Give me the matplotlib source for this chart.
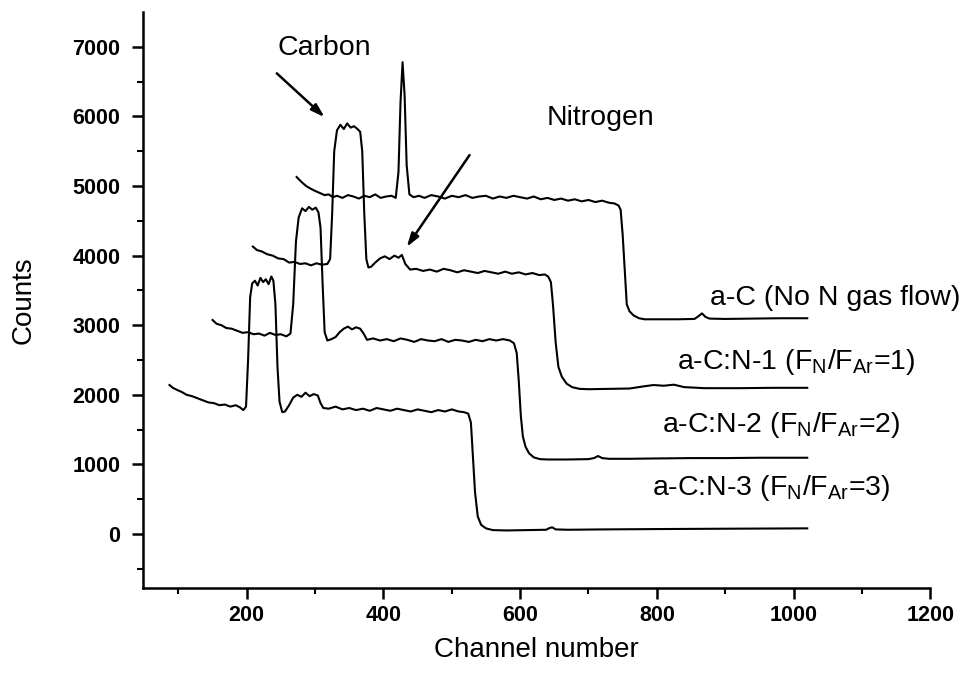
import numpy as np
import matplotlib.pyplot as plt

plt.rcParams['font.family'] = ['Liberation Sans', 'DejaVu Sans']
plt.rcParams['mathtext.default'] = 'regular'

# a-C (No N gas flow), shifted by +3000
x_ac = [273, 280, 287, 294, 300, 307, 314, 320, 326, 332, 340, 348, 356, 364, 372, 380, 388, 396, 404, 412,
        418, 422, 425, 428, 431, 434, 438, 444, 452, 460, 470, 480, 490, 500, 510, 520, 530, 540, 550, 560,
        570, 580, 590, 600, 610, 620, 630, 640, 650, 660, 670, 680, 690, 700, 710, 720, 730, 738, 744, 747,
        750, 753, 756, 760, 766, 774, 782, 800, 830, 855, 861, 866, 871, 877, 900, 940, 980, 1020]
y_ac = [5130, 5060, 5000, 4960, 4930, 4900, 4870, 4880, 4840, 4860, 4830, 4870, 4850, 4820, 4860, 4840, 4880, 4830, 4850, 4860,
        4830, 5200, 6200, 6780, 6300, 5300, 4880, 4840, 4860, 4830, 4870, 4850, 4820, 4860, 4840, 4870, 4830, 4850, 4860, 4820,
        4850, 4830, 4860, 4840, 4820, 4850, 4810, 4830, 4800, 4820, 4790, 4810, 4780, 4800, 4770, 4790, 4760, 4750, 4720, 4660,
        4300, 3800, 3300, 3200, 3140, 3100, 3085, 3085, 3085, 3090, 3130, 3170, 3120, 3095, 3090, 3095, 3100, 3100]

# a-C:N-1, shifted by +2000
x_n1 = [209, 215, 222, 230, 238, 246, 254, 262, 270, 278, 286, 294, 302, 310, 318, 322, 325, 328, 332, 337,
        342, 347, 352, 357, 362, 366, 369, 372, 375, 378, 382, 388, 395, 402, 409, 416, 422, 427, 432, 439,
        448, 458, 468, 478, 488, 498, 508, 518, 528, 538, 548, 558, 568, 578, 588, 598, 608, 618, 628, 636,
        641, 645, 648, 652, 656, 661, 668, 676, 687, 700, 730, 760, 780, 795, 810, 825, 840, 870, 920, 970, 1020]
y_n1 = [4130, 4080, 4060, 4020, 4000, 3960, 3950, 3900, 3910, 3880, 3890, 3860, 3890, 3870, 3880, 3950, 4600, 5500, 5800, 5880,
        5820, 5900, 5840, 5860, 5820, 5780, 5500, 4600, 3950, 3830, 3840, 3900, 3960, 3990, 3950, 4000, 3970, 4010, 3880, 3800,
        3810, 3780, 3800, 3770, 3810, 3790, 3760, 3790, 3770, 3750, 3780, 3760, 3740, 3770, 3740, 3760, 3730, 3750, 3720, 3730,
        3700, 3620, 3300, 2750, 2400, 2260, 2160, 2110, 2085, 2080, 2085, 2090, 2120, 2140, 2130, 2145, 2110, 2095, 2095, 2100, 2100]

# a-C:N-2, shifted by +1000
x_n2 = [150, 156, 163, 170, 178, 186, 194, 202, 210, 218, 226, 234, 242, 250, 258, 264, 268, 272, 276, 281,
        286, 291, 296, 301, 305, 308, 311, 314, 318, 324, 330, 336, 342, 348, 354, 360, 366, 371, 376, 385,
        395, 405, 415, 425, 435, 445, 455, 465, 475, 485, 495, 505, 515, 525, 535, 545, 555, 565, 575, 585,
        591, 595, 598, 601, 604, 608, 613, 620, 629, 640, 670, 700, 708, 714, 720, 730, 760, 800, 850, 900, 950, 1020]
y_n2 = [3075, 3020, 3000, 2960, 2950, 2920, 2890, 2900, 2870, 2880, 2850, 2890, 2860, 2870, 2840, 2880, 3300, 4200, 4550, 4680,
        4640, 4700, 4660, 4690, 4620, 4400, 3600, 2900, 2780, 2800, 2830, 2900, 2950, 2980, 2940, 2970, 2950, 2880, 2790, 2810,
        2780, 2800, 2770, 2810, 2790, 2760, 2800, 2780, 2770, 2800, 2760, 2790, 2780, 2760, 2790, 2770, 2800, 2780, 2800, 2780,
        2740, 2600, 2200, 1700, 1400, 1250, 1160, 1100, 1075, 1070, 1070, 1075, 1090, 1120, 1090, 1080, 1080, 1085, 1090, 1090, 1095, 1095]

# a-C:N-3, no shift
x_n3 = [87, 92, 98, 105, 112, 120, 128, 136, 144, 152, 160, 168, 176, 184, 190, 195, 199, 202, 205, 208,
        212, 216, 220, 224, 228, 232, 236, 239, 242, 245, 248, 252, 256, 262, 268, 274, 280, 286, 292, 298,
        304, 308, 312, 320, 330, 340, 350, 360, 370, 380, 390, 400, 410, 420, 430, 440, 450, 460, 470, 480,
        490, 500, 510, 518, 524, 528, 531, 534, 538, 543, 550, 560, 580, 610, 638, 643, 647, 652, 670, 720, 800, 900, 1020]
y_n3 = [2140, 2100, 2070, 2040, 2000, 1980, 1950, 1920, 1890, 1880, 1850, 1860, 1830, 1850, 1820, 1780, 1830, 2500, 3400, 3600,
        3640, 3570, 3680, 3620, 3660, 3590, 3700, 3640, 3300, 2400, 1900, 1750, 1760, 1850, 1960, 2000, 1970, 2030, 1980, 2010,
        1990, 1880, 1810, 1800, 1830, 1790, 1810, 1780, 1800, 1770, 1810, 1790, 1770, 1800, 1780, 1760, 1790, 1770, 1750, 1780,
        1760, 1790, 1760, 1750, 1730, 1600, 1100, 600, 250, 130, 80, 55, 50, 55, 60, 85, 95, 65, 60, 65, 70, 75, 80]

fig = plt.figure(figsize=(9.65, 6.73), dpi=100)
ax = fig.add_axes([0.148, 0.126, 0.816, 0.856])

for xs, ys in [(x_ac, y_ac), (x_n1, y_n1), (x_n2, y_n2), (x_n3, y_n3)]:
    ax.plot(xs, ys, color='black', lw=1.5)

ax.set_xlim(48, 1200)
ax.set_ylim(-780, 7500)
ax.set_xticks([200, 400, 600, 800, 1000, 1200])
ax.set_xticks(np.arange(100, 1200, 100), minor=True)
ax.set_yticks(np.arange(0, 7001, 1000))
ax.set_yticks(np.arange(-500, 7500, 500), minor=True)

for s in ['top', 'right']:
    ax.spines[s].set_visible(False)
for s in ['left', 'bottom']:
    ax.spines[s].set_linewidth(1.8)
ax.tick_params(which='major', direction='out', length=8, width=1.8, labelsize=15.5, pad=8)
ax.tick_params(axis='x', which='major', pad=4)
ax.tick_params(which='minor', direction='out', length=4.5, width=1.5)
for lab in ax.get_xticklabels() + ax.get_yticklabels():
    lab.set_fontweight('bold')

ax.set_xlabel('Channel number', fontsize=20, labelpad=8)
ax.set_ylabel('Counts', fontsize=20, labelpad=26)

ax.text(313, 6980, 'Carbon', fontsize=20.5, ha='center', va='center')
ax.text(717, 5977, 'Nitrogen', fontsize=20.5, ha='center', va='center')
arr = dict(arrowstyle='-|>,head_length=0.8,head_width=0.25', color='black', lw=1.8, shrinkA=0, shrinkB=0)
ax.annotate('', xy=(314, 5990), xytext=(244, 6620), arrowprops=arr)
ax.annotate('', xy=(434, 4124), xytext=(526, 5445), arrowprops=arr)

ax.text(878, 3390, 'a-C (No N gas flow)', fontsize=20.5, va='center')
ax.text(829, 2471, 'a-C:N-1 (F$_N$/F$_{Ar}$=1)', fontsize=20.5, va='center')
ax.text(808, 1566, 'a-C:N-2 (F$_N$/F$_{Ar}$=2)', fontsize=20.5, va='center')
ax.text(793, 661, 'a-C:N-3 (F$_N$/F$_{Ar}$=3)', fontsize=20.5, va='center')

fig.savefig('out.png', dpi=100)
